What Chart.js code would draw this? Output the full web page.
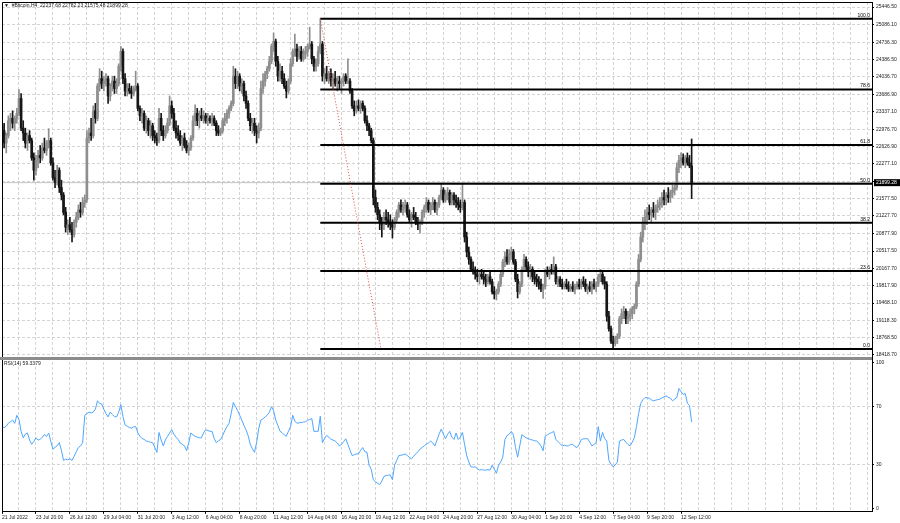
<!DOCTYPE html>
<html>
<head>
<meta charset="utf-8">
<script src="https://cdn.jsdelivr.net/npm/chart.js@4"></script>
<style>
  html, body { margin: 0; padding: 0; background: #fff; }
  #wrap { width: 900px; height: 523px; }
</style>
</head>
<body>
<div id="wrap"><canvas id="btcChart" width="900" height="523"></canvas></div>
<script>
// BTC H4 bars, 21 Jul 2022 04:00 -> 13 Sep 2022 (one line per day)
const barOpen = [
  23050, 22950, 22700, 22850, 23150,
  23200, 23100, 23200, 23300, 23600, 23000,
  22900, 22700, 22850, 22750, 22400, 22150,
  22350, 22450, 22400, 22600, 22550, 22700,
  22750, 22300, 22000, 21900, 22150, 21800,
  21650, 21300, 21000, 21050, 20950, 20850,
  21100, 21200, 21350, 21300, 21500, 21550,
  22800, 22900, 22850, 23350, 23200, 23850,
  24000, 23900, 23950, 24000, 23650, 23850,
  23950, 23800, 23900, 24250, 24550, 24000,
  23750, 23800, 23750, 23700, 23800, 23850,
  23400, 23250, 23300, 23000, 23150, 22950,
  23050, 22850, 22800, 22750, 23200, 22950,
  22850, 22950, 23100, 23450, 23300, 23000,
  22900, 22850, 22700, 22800, 22650, 22550,
  22600, 22800, 23150, 23300, 23150, 23250,
  23200, 23250, 23150, 23200, 23150, 23200,
  23100, 22950, 22900, 22950, 23150, 23200,
  23300, 23400, 23500, 24050, 23900, 24050,
  23850, 23900, 23650, 23500, 23200, 23050,
  23100, 22950, 22900, 23000, 23800, 23950,
  24100, 24200, 24350, 24650, 24750, 24350,
  24050, 24150, 24000, 23850, 23750, 23950,
  24300, 24550, 24600, 24450, 24550, 24400,
  24500, 24550, 24650, 24700, 24400, 24250,
  24300, 24550, 24700, 24050, 24100, 24000,
  24100, 23950, 24000, 23900, 23950, 23900,
  23950, 24050, 23950, 23950, 23750, 23450,
  23350, 23450, 23400, 23500, 23400, 23150,
  23050, 22950, 22750, 21600, 21400, 21250,
  21100, 21050, 21200, 21150, 21100, 21050,
  21000, 21150, 21300, 21450, 21350, 21400,
  21450, 21250, 21150, 21250, 21200, 21100,
  21050, 21100, 21300, 21400, 21500, 21350,
  21450, 21500, 21350, 21450, 21600, 21750,
  21550, 21650, 21700, 21500, 21650, 21550,
  21500, 21450, 21400, 21500, 20800, 20500,
  20350, 20150, 20100, 20050, 20000, 20050,
  20000, 19950, 19900, 20000, 19900, 19700,
  19650, 19700, 19850, 20050, 20300, 20400,
  20300, 20450, 20500, 20300, 19950, 19700,
  19850, 20150, 20350, 20200, 20100, 20150,
  20000, 19950, 19900, 19850, 19750, 19800,
  20100, 20050, 20150, 20100, 20200, 19900,
  19950, 19850, 19800, 19850, 19800, 19750,
  19800, 19750, 19800, 19850, 19800, 19900,
  19850, 19750, 19800, 19750, 19850, 19800,
  19850, 20000, 20050, 19900, 19850, 19200,
  18950, 18700, 18650, 18750, 18800, 19150,
  19250, 19300, 19150, 19200, 19250, 19350,
  19400, 19850, 20350, 20800, 21100, 21200,
  21300, 21250, 21350, 21300, 21400, 21450,
  21500, 21600, 21550, 21650, 21600, 21700,
  21750, 21800, 22200, 22350, 22400, 22300,
  22400, 22300, 22237.68
];
const barHigh = [
  23430, 23100, 22900, 23250, 23300,
  23350, 23250, 23400, 23780, 23700, 23150,
  23000, 22900, 22950, 22800, 22500, 22450,
  22550, 22650, 22700, 22800, 22750, 22990,
  22800, 22400, 22150, 22250, 22200, 21950,
  21700, 21400, 21150, 21200, 21100, 21150,
  21300, 21450, 21500, 21600, 21650, 22950,
  23000, 23200, 23450, 23500, 23900, 24200,
  24150, 24050, 24100, 24050, 23900, 24050,
  24050, 24000, 24300, 24650, 24600, 24100,
  23900, 23900, 23850, 23850, 24150, 23900,
  23450, 23400, 23350, 23250, 23200, 23150,
  23100, 22950, 22900, 23400, 23300, 23050,
  23050, 23200, 23650, 23550, 23400, 23150,
  23050, 22950, 22850, 22900, 22750, 22700,
  22850, 23250, 23470, 23400, 23350, 23400,
  23350, 23300, 23300, 23250, 23300, 23250,
  23150, 23050, 23000, 23200, 23300, 23370,
  23450, 23550, 24250, 24200, 24150, 24100,
  24000, 23950, 23750, 23550, 23300, 23200,
  23200, 23050, 23100, 23950, 24100, 24150,
  24250, 24450, 24700, 24920, 24800, 24450,
  24300, 24250, 24100, 23950, 24000, 24400,
  24600, 24900, 24700, 24650, 24650, 24600,
  24650, 24700, 25040, 24750, 24450, 24400,
  24650, 25210, 24750, 24200, 24250, 24150,
  24200, 24100, 24150, 24050, 24050, 24000,
  24100, 24100, 24400, 24000, 23800, 23550,
  23550, 23570, 23550, 23550, 23450, 23250,
  23100, 23000, 22800, 21750, 21500, 21350,
  21200, 21300, 21350, 21300, 21250, 21150,
  21200, 21350, 21500, 21550, 21500, 21550,
  21500, 21350, 21300, 21400, 21300, 21200,
  21150, 21350, 21450, 21600, 21550, 21500,
  21600, 21550, 21500, 21650, 21890, 21800,
  21750, 21800, 21750, 21700, 21700, 21650,
  21600, 21550, 21890, 21550, 20900, 20600,
  20400, 20300, 20200, 20150, 20100, 20150,
  20100, 20050, 20050, 20100, 19950, 19800,
  19750, 19900, 20100, 20350, 20500, 20550,
  20550, 20600, 20550, 20350, 20050, 19900,
  20200, 20450, 20400, 20300, 20250, 20200,
  20100, 20050, 20000, 19950, 19850, 20150,
  20200, 20200, 20250, 20400, 20250, 20000,
  20000, 19950, 19900, 19950, 19900, 19850,
  19900, 19850, 19900, 19950, 19950, 20000,
  19950, 19850, 19900, 19900, 19950, 19900,
  20050, 20150, 20100, 20000, 19900, 19300,
  19000, 18800, 18800, 18850, 19200, 19350,
  19400, 19350, 19300, 19350, 19400, 19450,
  19900, 20450, 20900, 21200, 21350, 21400,
  21450, 21400, 21500, 21450, 21550, 21600,
  21700, 21750, 21700, 21800, 21750, 21850,
  21850, 22300, 22450, 22500, 22480, 22450,
  22500, 22450, 22782.23
];
const barLow = [
  22900, 22600, 22500, 22800, 22950,
  23000, 22950, 23100, 23250, 22950, 22750,
  22600, 22550, 22700, 22350, 21950, 22050,
  22200, 22300, 22350, 22500, 22450, 22600,
  22250, 21950, 21800, 21850, 21700, 21550,
  21250, 20900, 20850, 20900, 20700, 20800,
  21000, 21150, 21200, 21250, 21400, 21500,
  22700, 22750, 22800, 23100, 23150, 23750,
  23800, 23750, 23850, 23500, 23550, 23750,
  23700, 23700, 23850, 24150, 23900, 23650,
  23650, 23700, 23600, 23650, 23750, 23350,
  23150, 23100, 22950, 22900, 22850, 22800,
  22750, 22700, 22650, 22700, 22850, 22750,
  22800, 22900, 23050, 23200, 22950, 22800,
  22750, 22650, 22550, 22600, 22500, 22450,
  22550, 22750, 23050, 23050, 23000, 23150,
  23100, 23100, 23050, 23100, 23050, 23050,
  22850, 22850, 22850, 22900, 23050, 23100,
  23200, 23350, 23450, 23800, 23800, 23750,
  23700, 23550, 23400, 23150, 22950, 22900,
  22850, 22700, 22800, 22950, 23700, 23850,
  24000, 24150, 24300, 24550, 24250, 23950,
  23950, 23900, 23800, 23610, 23700, 23900,
  24250, 24450, 24350, 24400, 24350, 24350,
  24400, 24450, 24600, 24300, 24150, 24150,
  24250, 24500, 23950, 23900, 23950, 23900,
  23850, 23800, 23850, 23750, 23800, 23700,
  23850, 23900, 23900, 23700, 23400, 23250,
  23300, 23350, 23300, 23350, 23100, 22950,
  22850, 22700, 21450, 21300, 21150, 20950,
  20800, 20950, 21050, 21000, 20950, 20780,
  20950, 21100, 21200, 21300, 21250, 21300,
  21200, 21100, 21000, 21150, 21050, 20950,
  20880, 21050, 21200, 21300, 21300, 21250,
  21350, 21300, 21250, 21400, 21550, 21500,
  21500, 21550, 21450, 21450, 21450, 21400,
  21350, 21300, 21350, 20700, 20400, 20250,
  20100, 20050, 19950, 19900, 19850, 19950,
  19850, 19800, 19850, 19850, 19650, 19550,
  19530, 19650, 19800, 20000, 20200, 20250,
  20250, 20350, 20250, 19900, 19570, 19650,
  19800, 20100, 20100, 20000, 19950, 19900,
  19850, 19800, 19750, 19700, 19560, 19750,
  20000, 19950, 20050, 20050, 19850, 19800,
  19800, 19750, 19750, 19750, 19700, 19700,
  19700, 19650, 19750, 19750, 19750, 19800,
  19700, 19650, 19700, 19650, 19750, 19700,
  19800, 19900, 19850, 19750, 19100, 18900,
  18650, 18540, 18600, 18650, 18750, 19050,
  19150, 19050, 19050, 19100, 19150, 19250,
  19350, 19800, 20300, 20700, 20950, 21050,
  21150, 21100, 21200, 21150, 21300, 21350,
  21400, 21450, 21450, 21500, 21500, 21600,
  21650, 21750, 22100, 22200, 22250, 22200,
  22250, 22200, 21575.48
];
const barClose = [
  22950, 22700, 22850, 23150, 23200,
  23100, 23200, 23300, 23600, 23000, 22900,
  22700, 22850, 22750, 22400, 22150, 22350,
  22450, 22400, 22600, 22550, 22700, 22750,
  22300, 22000, 21900, 22150, 21800, 21650,
  21300, 21000, 21050, 20950, 20850, 21100,
  21200, 21350, 21300, 21500, 21550, 22800,
  22900, 22850, 23350, 23200, 23850, 24000,
  23900, 23950, 24000, 23650, 23850, 23950,
  23800, 23900, 24250, 24550, 24000, 23750,
  23800, 23750, 23700, 23800, 23850, 23400,
  23250, 23300, 23000, 23150, 22950, 23050,
  22850, 22800, 22750, 23200, 22950, 22850,
  22950, 23100, 23450, 23300, 23000, 22900,
  22850, 22700, 22800, 22650, 22550, 22600,
  22800, 23150, 23300, 23150, 23250, 23200,
  23250, 23150, 23200, 23150, 23200, 23100,
  22950, 22900, 22950, 23150, 23200, 23300,
  23400, 23500, 24050, 23900, 24050, 23850,
  23900, 23650, 23500, 23200, 23050, 23100,
  22950, 22900, 23000, 23800, 23950, 24100,
  24200, 24350, 24650, 24750, 24350, 24050,
  24150, 24000, 23850, 23750, 23950, 24300,
  24550, 24600, 24450, 24550, 24400, 24500,
  24550, 24650, 24700, 24400, 24250, 24300,
  24550, 24700, 24050, 24100, 24000, 24100,
  23950, 24000, 23900, 23950, 23900, 23950,
  24050, 23950, 23950, 23750, 23450, 23350,
  23450, 23400, 23500, 23400, 23150, 23050,
  22950, 22750, 21600, 21400, 21250, 21100,
  21050, 21200, 21150, 21100, 21050, 21000,
  21150, 21300, 21450, 21350, 21400, 21450,
  21250, 21150, 21250, 21200, 21100, 21050,
  21100, 21300, 21400, 21500, 21350, 21450,
  21500, 21350, 21450, 21600, 21750, 21550,
  21650, 21700, 21500, 21650, 21550, 21500,
  21450, 21400, 21500, 20800, 20500, 20350,
  20150, 20100, 20050, 20000, 20050, 20000,
  19950, 19900, 20000, 19900, 19700, 19650,
  19700, 19850, 20050, 20300, 20400, 20300,
  20450, 20500, 20300, 19950, 19700, 19850,
  20150, 20350, 20200, 20100, 20150, 20000,
  19950, 19900, 19850, 19750, 19800, 20100,
  20050, 20150, 20100, 20200, 19900, 19950,
  19850, 19800, 19850, 19800, 19750, 19800,
  19750, 19800, 19850, 19800, 19900, 19850,
  19750, 19800, 19750, 19850, 19800, 19850,
  20000, 20050, 19900, 19850, 19200, 18950,
  18700, 18650, 18750, 18800, 19150, 19250,
  19300, 19150, 19200, 19250, 19350, 19400,
  19850, 20350, 20800, 21100, 21200, 21300,
  21250, 21350, 21300, 21400, 21450, 21500,
  21600, 21550, 21650, 21600, 21700, 21750,
  21800, 22200, 22350, 22400, 22300, 22400,
  22300, 22240, 21899.28
];

// RSI(14)
const rsiValues = [
  56.2, 55.5, 56.5, 58.5, 59.5, 60.6, 58.4, 63.9, 61, 53,
  48.5, 51, 51.8, 47, 44.1, 46, 48.5, 47, 47.4, 49,
  50.7, 49.5, 51.8, 46, 40.8, 42, 43, 45.2, 40, 33.1,
  34, 33.5, 34.2, 33.1, 36, 39, 41.9, 43, 45.2, 63.9,
  65, 66.1, 65.5, 66.1, 68, 73.8, 72, 71.6, 68, 65,
  62.8, 66.1, 64.5, 63, 62.8, 66, 71.2, 63, 57.3, 56.5,
  55.5, 55.1, 56, 56.2, 52, 49.6, 48, 47.5, 46.3, 46,
  45.5, 45.2, 42, 38.6, 52.2, 47, 43, 47, 49.5, 51.8,
  54, 51, 49, 47.4, 45, 44, 43, 39.7, 45, 51.8,
  50.5, 49.6, 49, 48.5, 48.5, 52, 54, 53.5, 53, 52.9,
  48, 45.2, 46.5, 47.4, 50, 53.5, 56.2, 58.4, 65, 72.7,
  70, 67.2, 64, 60.6, 57, 54, 50, 44.1, 41, 38.6,
  45.2, 55, 60.6, 61.5, 62.8, 64, 66, 69.8, 67, 60.6,
  57, 53, 52, 50.5, 49.6, 53, 56.2, 63.9, 60, 58.4,
  58.8, 59, 59.2, 59.5, 60.5, 61, 61.7, 52.9, 53, 52.9,
  63.3, 45.2, 48, 50.1, 49, 47.4, 47, 46.3, 45, 43,
  44, 46, 47.9, 44, 40, 36.4, 37, 37.5, 37.5, 40,
  41.9, 39, 38.6, 29.8, 27, 19.9, 18.5, 17.5, 16.6, 19,
  22.1, 22.8, 23, 23.2, 19.9, 29.8, 33, 36.4, 36.6, 37,
  37.5, 36.5, 35, 34.2, 36, 37.5, 39, 40.8, 42, 43,
  44.1, 45, 46.3, 45, 43, 47, 51, 54.5, 51, 47.9,
  51, 52.9, 49, 47.4, 51.8, 47.4, 49, 52.2, 44, 36.4,
  32, 28.7, 28.5, 28.7, 27.5, 26.5, 26.8, 26.5, 26.5, 26.8,
  26.5, 29.8, 27, 24.3, 29.8, 32, 35.3, 47.4, 50, 51,
  52.9, 50.7, 42, 35.3, 43, 50.7, 49.5, 48.5, 48, 47.4,
  47, 46.5, 46.3, 45, 43, 39.7, 49.6, 50.5, 51.5, 52,
  52.9, 47.4, 46, 44.5, 43, 43.5, 43, 43, 44, 44.1,
  42.5, 41.9, 44, 47.4, 47.8, 47.9, 47.9, 45.5, 43, 44,
  45.2, 56.2, 46.3, 52.2, 48, 46.3, 33.1, 30.5, 28.7, 30,
  32, 46.3, 47, 47.4, 45.5, 44, 43, 45.5, 48.5, 56.2,
  65, 72, 74.5, 76, 75.8, 75.6, 74.5, 73.8, 74.2, 74.6,
  74.9, 75.8, 76.5, 77.1, 76.2, 75.6, 73.8, 75, 76, 82.2,
  80, 78.2, 78.7, 72.1, 70.5, 59.3379
];

// time axis labels (bar index -> text)
const timeLabelBars = [0, 16, 32, 48, 64, 80, 96, 112, 128, 144, 160,
  176, 192, 208, 224, 240, 256, 272, 288, 304, 320];
const timeLabels = ['21 Jul 2022', '23 Jul 20:00', '26 Jul 12:00', '29 Jul 04:00',
  '31 Jul 20:00', '3 Aug 12:00', '6 Aug 04:00', '8 Aug 20:00', '11 Aug 12:00',
  '14 Aug 04:00', '16 Aug 20:00', '19 Aug 12:00', '22 Aug 04:00', '24 Aug 20:00',
  '27 Aug 12:00', '30 Aug 04:00', '1 Sep 20:00', '4 Sep 12:00', '7 Sep 04:00',
  '9 Sep 20:00', '12 Sep 12:00'];

// price scale labels on the right
const priceTicks = [25446.5, 25086.1, 24736.3, 24386.5, 24036.7, 23686.9, 23337.1,
  22976.7, 22626.9, 22277.1, 21927.3, 21577.5, 21227.7, 20877.9, 20517.5, 20167.7,
  19817.9, 19468.1, 19118.3, 18768.5, 18418.7];
const rsiTicks = [100, 70, 30, 0];

// Fibonacci retracement object
const fibLevels = [0, 23.6, 38.2, 50, 61.8, 78.6, 100];
const fibHigh = 25210;
const fibLow = 18540;
const fibStartBar = 150;
const fibTrendEndBar = 178.6;

const symbolName = '#Bitcoin,H4';
const rsiName = 'RSI(14)';

// ---- build datasets ----
const nBars = barClose.length;
const lastClose = barClose[nBars - 1];
const xMax = 410;
const BULL = '#8e8e8e', BEAR = '#161616';
const barColors = barClose.map((c, i) => c >= barOpen[i] ? BULL : BEAR);

const wickData = barClose.map((c, i) => ({ x: i, y: [barLow[i], barHigh[i]] }));
const bodyData = barClose.map((c, i) => ({ x: i, y: [barOpen[i], c] }));
const rsiData = rsiValues.map((v, i) => ({ x: i, y: v }));
const fibPrice = lvl => fibLow + (fibHigh - fibLow) * lvl / 100;

const datasets = [
  { type: 'line', data: [{ x: fibStartBar, y: fibHigh }, { x: fibTrendEndBar, y: fibLow }],
    borderColor: '#e04848', borderWidth: 1, borderDash: [1, 2], pointRadius: 0, yAxisID: 'y', order: 0 },
  ...fibLevels.map(lvl => ({
    type: 'line', data: [{ x: fibStartBar, y: fibPrice(lvl) }, { x: xMax, y: fibPrice(lvl) }],
    borderColor: '#000', borderWidth: 2, pointRadius: 0, yAxisID: 'y', order: 1
  })),
  { type: 'bar', data: bodyData, backgroundColor: barColors, borderWidth: 0,
    barThickness: 2, grouped: false, yAxisID: 'y', order: 2 },
  { type: 'bar', data: wickData, backgroundColor: barColors, borderWidth: 0,
    barThickness: 1, grouped: false, yAxisID: 'y', order: 3 },
  { type: 'line', data: [{ x: 0, y: lastClose }, { x: xMax, y: lastClose }],
    borderColor: '#c4c4c4', borderWidth: 1, pointRadius: 0, yAxisID: 'y', order: 10 },
  { type: 'line', data: rsiData, borderColor: '#4ea6ff', borderWidth: 1,
    pointRadius: 0, tension: 0, yAxisID: 'rsi', order: 0 }
];

const FONT = { family: "'Liberation Sans', Arial, sans-serif", size: 5 };
const GRID = '#d4d4d4';
const GRID_DASH = [3, 2];

// frame, pane separator, header texts, fib labels, price box
const overlay = {
  id: 'overlay',
  afterDraw(chart) {
    const { ctx, chartArea: a, scales } = chart;
    const yS = scales.y, rS = scales.rsi;
    ctx.save();
    ctx.strokeStyle = '#000';
    ctx.lineWidth = 1;
    ctx.beginPath();
    ctx.moveTo(a.left + 0.5, a.bottom);
    ctx.lineTo(a.left + 0.5, a.top + 0.5);
    ctx.lineTo(a.right, a.top + 0.5);
    ctx.stroke();

    ctx.fillStyle = '#8c8c8c';
    ctx.fillRect(0, yS.bottom, a.right, 3);

    ctx.font = "5px 'Liberation Sans', Arial, sans-serif";
    ctx.textBaseline = 'middle';
    ctx.fillStyle = '#1a1a1a';
    const ohlc = [barOpen, barHigh, barLow, barClose].map(arr => arr[nBars - 1].toFixed(2)).join(' ');
    ctx.fillText('\u25BC  ' + symbolName + '  ' + ohlc, 4, a.top + 4);
    ctx.fillText(rsiName + ' ' + rsiValues[nBars - 1].toFixed(4), 4, rS.top + 7);

    ctx.textAlign = 'right';
    ctx.textBaseline = 'alphabetic';
    ctx.fillStyle = '#000';
    fibLevels.forEach(lvl => {
      const py = yS.getPixelForValue(fibPrice(lvl));
      ctx.fillText(lvl.toFixed(1), a.right - 2, py - 2);
    });

    const cy = yS.getPixelForValue(lastClose);
    ctx.fillStyle = '#000';
    ctx.fillRect(a.right + 2, cy - 3.5, 900 - a.right - 2, 7);
    ctx.fillStyle = '#fff';
    ctx.textAlign = 'left';
    ctx.textBaseline = 'middle';
    ctx.fillText(lastClose.toFixed(2), a.right + 4, cy);
    ctx.restore();
  }
};

const fitY = s => { s.width = 28; s.paddingTop = 0; s.paddingBottom = 0; };

new Chart(document.getElementById('btcChart').getContext('2d'), {
  type: 'line',
  data: { datasets },
  options: {
    responsive: false,
    animation: false,
    devicePixelRatio: 1,
    layout: { padding: { left: 2, top: 2, right: 0, bottom: 0 } },
    plugins: { legend: { display: false }, tooltip: { enabled: false } },
    events: [],
    scales: {
      x: {
        type: 'linear', position: 'bottom', min: 0, max: xMax, offset: false,
        afterBuildTicks: s => {
          const t = [];
          for (let v = 0; v <= 408; v += 8) t.push({ value: v });
          s.ticks = t;
        },
        afterFit: s => { s.height = 11.2; s.paddingLeft = 0; s.paddingRight = 0; },
        ticks: {
          autoSkip: false, maxRotation: 0, minRotation: 0, align: 'start', padding: 1,
          font: FONT, color: '#1a1a1a',
          callback: v => { const k = timeLabelBars.indexOf(v); return k >= 0 ? timeLabels[k] : ''; }
        },
        grid: {
          color: GRID, offset: false, tickLength: 2,
          tickColor: c => (c.tick && timeLabelBars.includes(c.tick.value)) ? '#000' : 'rgba(0,0,0,0)'
        },
        border: { display: true, color: '#000', width: 1, dash: GRID_DASH }
      },
      y: {
        type: 'linear', position: 'right', stack: 'panes', stackWeight: 355,
        min: 18378, max: 25548,
        afterBuildTicks: s => { s.ticks = priceTicks.map(v => ({ value: v })); },
        afterFit: fitY,
        ticks: {
          autoSkip: false, padding: 2, font: FONT, color: '#1a1a1a',
          callback: v => Math.abs(v - lastClose) < 100 ? '' : v.toFixed(2)
        },
        grid: { color: GRID, tickLength: 2, tickColor: '#000' },
        border: { display: true, color: '#000', width: 1, dash: GRID_DASH }
      },
      rsi: {
        type: 'linear', position: 'right', stack: 'panes', stackWeight: 154.8,
        min: -2, max: 103.7,
        afterBuildTicks: s => { s.ticks = rsiTicks.map(v => ({ value: v })); },
        afterFit: fitY,
        ticks: { autoSkip: false, padding: 2, font: FONT, color: '#1a1a1a', callback: v => String(v) },
        grid: {
          color: c => (c.tick && (c.tick.value === 70 || c.tick.value === 30)) ? GRID : 'rgba(0,0,0,0)',
          tickLength: 2, tickColor: '#000'
        },
        border: { display: true, color: '#000', width: 1, dash: GRID_DASH }
      }
    }
  },
  plugins: [overlay]
});
</script>
</body>
</html>
